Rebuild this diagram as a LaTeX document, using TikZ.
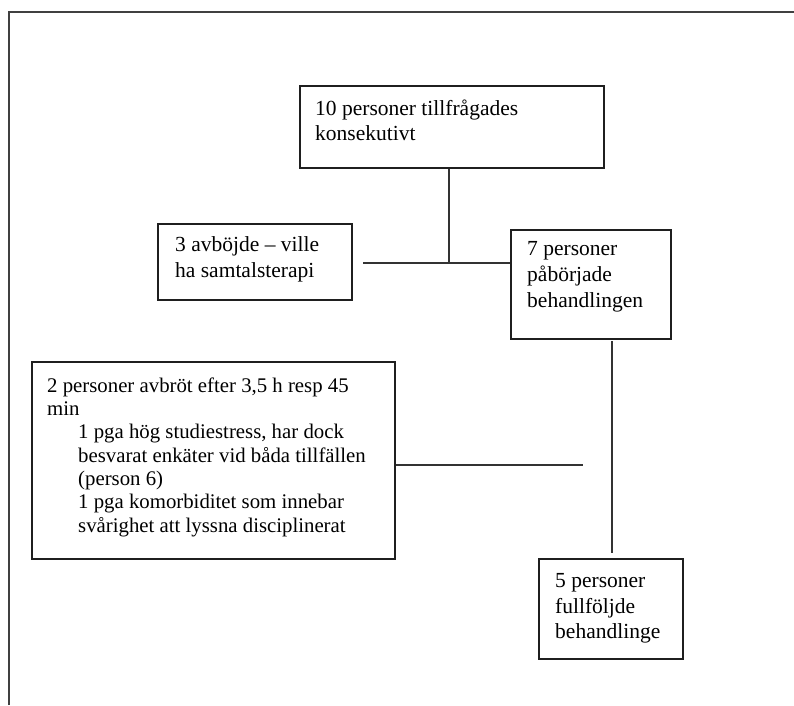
\documentclass[tikz,border=0pt]{standalone}
\usepackage{fontspec}
\setmainfont{Liberation Serif}
\begin{document}
\begin{tikzpicture}[x=1pt,y=-1pt,
  box/.style={draw=black!88, line width=1.8pt, inner sep=0pt, anchor=north west},
  txt/.style={inner sep=0pt, anchor=base west, font=\fontsize{21.5}{25}\selectfont},
  txts/.style={inner sep=0pt, anchor=base west, font=\fontsize{20.8}{24}\selectfont},
  conn/.style={draw=black!80, line width=1.4pt},
  frame/.style={draw=black!75, line width=1.6pt}]
\useasboundingbox (0,0) rectangle (794,705);
% outer frame (top and left edges)
\coordinate (fa) at (9,705);
\coordinate (fb) at (9,12);
\coordinate (fc) at (794,12);
\draw[frame] (fa) -- (fb) -- (fc);
% boxes
\node[box, minimum width=304pt, minimum height=82pt] (b1) at (299,85) {};
\node[box, minimum width=194pt, minimum height=76pt] (b2) at (157,223) {};
\node[box, minimum width=160pt, minimum height=109pt] (b3) at (510,229) {};
\node[box, minimum width=363pt, minimum height=197pt] (b4) at (31,361) {};
\node[box, minimum width=144pt, minimum height=100pt] (b5) at (538,558) {};
% texts
\node[txt] (t1a) at (315,115) {10 personer tillfrågades};
\node[txt] (t1b) at (315,140) {konsekutivt};
\node[txt] (t2a) at (175,251) {3 avböjde – ville};
\node[txt] (t2b) at (175,277) {ha samtalsterapi};
\node[txt] (t3a) at (527,255) {7 personer};
\node[txt] (t3b) at (527,281) {påbörjade};
\node[txt] (t3c) at (527,307) {behandlingen};
\node[txts] (t4a) at (47,392) {2 personer avbröt efter 3,5 h resp 45};
\node[txts] (t4b) at (47,415) {min};
\node[txts] (t4c) at (78,438) {1 pga hög studiestress, har dock};
\node[txts] (t4d) at (78,462) {besvarat enkäter vid båda tillfällen};
\node[txts] (t4e) at (78,485) {(person 6)};
\node[txts] (t4f) at (78,508) {1 pga komorbiditet som innebar};
\node[txts] (t4g) at (78,532) {svårighet att lyssna disciplinerat};
\node[txt] (t5a) at (555,587) {5 personer};
\node[txt] (t5b) at (555,613) {fullföljde};
\node[txt] (t5c) at (555,638) {behandlinge};
% connectors
\coordinate (j1) at (449,263);
\coordinate (h1) at (363,263);
\draw[conn] (b1.south -| j1) -- (j1);
\draw[conn] (h1) -- (b3.west |- h1);
\coordinate (v1) at (612,341);
\coordinate (v2) at (612,553);
\draw[conn] (v1) -- (v2);
\coordinate (h2) at (583,465);
\draw[conn] (b4.east |- h2) -- (h2);
\end{tikzpicture}
\end{document}
